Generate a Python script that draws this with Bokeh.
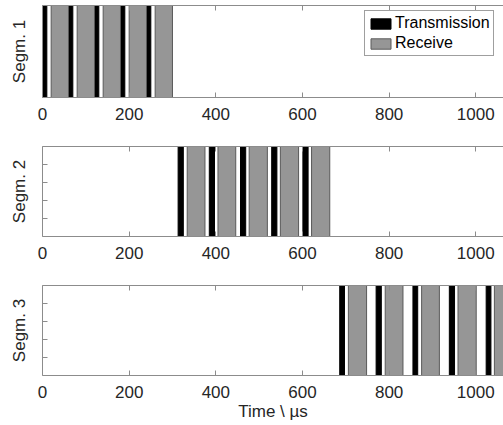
from bokeh.plotting import figure
from bokeh.models import Range1d, FixedTicker, LinearAxis, Legend, LegendItem
from bokeh.layouts import column
from bokeh.embed import file_html
from bokeh.resources import INLINE

# ---- data (µs) ----
seg1_tx_start = [0, 60, 120, 180, 240]
seg1_tx_end = [10, 70, 130, 190, 250]
seg1_rx_start = [20, 80, 140, 200, 260]
seg1_rx_end = [60, 120, 180, 240, 300]

seg2_tx_start = [313, 385, 457, 529, 601]
seg2_tx_end = [325, 397, 469, 541, 613]
seg2_rx_start = [334, 405, 477, 549, 621]
seg2_rx_end = [375, 446, 519, 591, 663]

seg3_tx_start = [686, 770, 855, 939, 1024]
seg3_tx_end = [697, 782, 866, 951, 1035]
seg3_rx_start = [706, 791, 875, 959, 1043]
seg3_rx_end = [748, 832, 916, 1001, 1085]

x_ticks = [0, 200, 400, 600, 800, 1000]
y_ticks = [0.2, 0.4, 0.6, 0.8]
seg_labels = ["Segm. 1", "Segm. 2", "Segm. 3"]

FONT = "Liberation Sans"
TXT = "#262626"
AX = "#8c8c8c"
TX_COLOR = "#000000"
RX_FILL = "#969696"
RX_LINE = "#5a5a5a"


def make_panel(label, txs, txe, rxs, rxe, height, top_border, bottom_border,
               show_yticks, xlabel=None, legend=False):
    p = figure(width=503, height=height, output_backend="svg", toolbar_location=None,
               x_range=Range1d(0, 1064), y_range=Range1d(0, 1),
               min_border_left=42, min_border_right=0, min_border_top=top_border,
               min_border_bottom=bottom_border)
    p.outline_line_color = None
    p.xgrid.visible = False
    p.ygrid.visible = False
    p.background_fill_color = "white"

    r_tx = p.quad(left=txs, right=txe, bottom=0, top=1,
                  fill_color=TX_COLOR, line_color=TX_COLOR, line_width=1)
    r_rx = p.quad(left=rxs, right=rxe, bottom=0, top=1,
                  fill_color=RX_FILL, line_color=RX_LINE, line_width=1)

    xa = p.xaxis[0]
    xa.ticker = FixedTicker(ticks=x_ticks)
    xa.major_tick_in = 5
    xa.major_tick_out = 0
    xa.minor_tick_in = 0
    xa.minor_tick_out = 0
    xa.axis_line_color = AX
    xa.major_tick_line_color = AX
    xa.major_label_text_font = FONT
    xa.major_label_text_font_size = "17px"
    xa.major_label_text_color = TXT
    xa.major_label_standoff = 10
    if xlabel:
        xa.axis_label = xlabel
        xa.axis_label_text_font = FONT
        xa.axis_label_text_font_size = "17px"
        xa.axis_label_text_font_style = "normal"
        xa.axis_label_text_color = TXT
        xa.axis_label_standoff = 1

    top = LinearAxis(ticker=FixedTicker(ticks=x_ticks))
    top.major_tick_in = 5
    top.major_tick_out = 0
    top.minor_tick_in = 0
    top.minor_tick_out = 0
    top.axis_line_color = AX
    top.major_tick_line_color = AX
    top.major_label_overrides = {t: "" for t in x_ticks}
    top.major_label_standoff = 0
    p.add_layout(top, "above")

    ya = p.yaxis[0]
    ya.ticker = FixedTicker(ticks=y_ticks if show_yticks else [])
    ya.major_tick_in = 5
    ya.major_tick_out = 0
    ya.minor_tick_in = 0
    ya.minor_tick_out = 0
    ya.axis_line_color = AX
    ya.major_tick_line_color = AX
    ya.major_label_overrides = {t: "" for t in y_ticks}
    ya.major_label_standoff = 0
    ya.axis_label = label
    ya.axis_label_text_font = FONT
    ya.axis_label_text_font_size = "17px"
    ya.axis_label_text_font_style = "normal"
    ya.axis_label_text_color = TXT
    ya.axis_label_standoff = 14

    if legend:
        lg = Legend(items=[LegendItem(label="Transmission", renderers=[r_tx]),
                           LegendItem(label="Receive", renderers=[r_rx])],
                    location=(322, 41))
        lg.label_text_font = FONT
        lg.label_text_font_size = "16px"
        lg.label_text_color = "#000000"
        lg.glyph_width = 25
        lg.glyph_height = 13
        lg.label_height = 18
        lg.label_standoff = 2
        lg.spacing = 2
        lg.padding = 3
        lg.margin = 0
        lg.border_line_color = "#404040"
        lg.border_line_width = 1
        lg.background_fill_alpha = 1
        p.add_layout(lg, "center")
    return p


p1 = make_panel(seg_labels[0], seg1_tx_start, seg1_tx_end, seg1_rx_start, seg1_rx_end,
                height=145, top_border=5, bottom_border=48, show_yticks=False, legend=True)
p2 = make_panel(seg_labels[1], seg2_tx_start, seg2_tx_end, seg2_rx_start, seg2_rx_end,
                height=140, top_border=1, bottom_border=49, show_yticks=True)
p3 = make_panel(seg_labels[2], seg3_tx_start, seg3_tx_end, seg3_rx_start, seg3_rx_end,
                height=140, top_border=0, bottom_border=50, show_yticks=True,
                xlabel="Time \\ µs")

layout = column(p1, p2, p3, spacing=0)
open("out.html", "w").write(file_html(layout, INLINE))
